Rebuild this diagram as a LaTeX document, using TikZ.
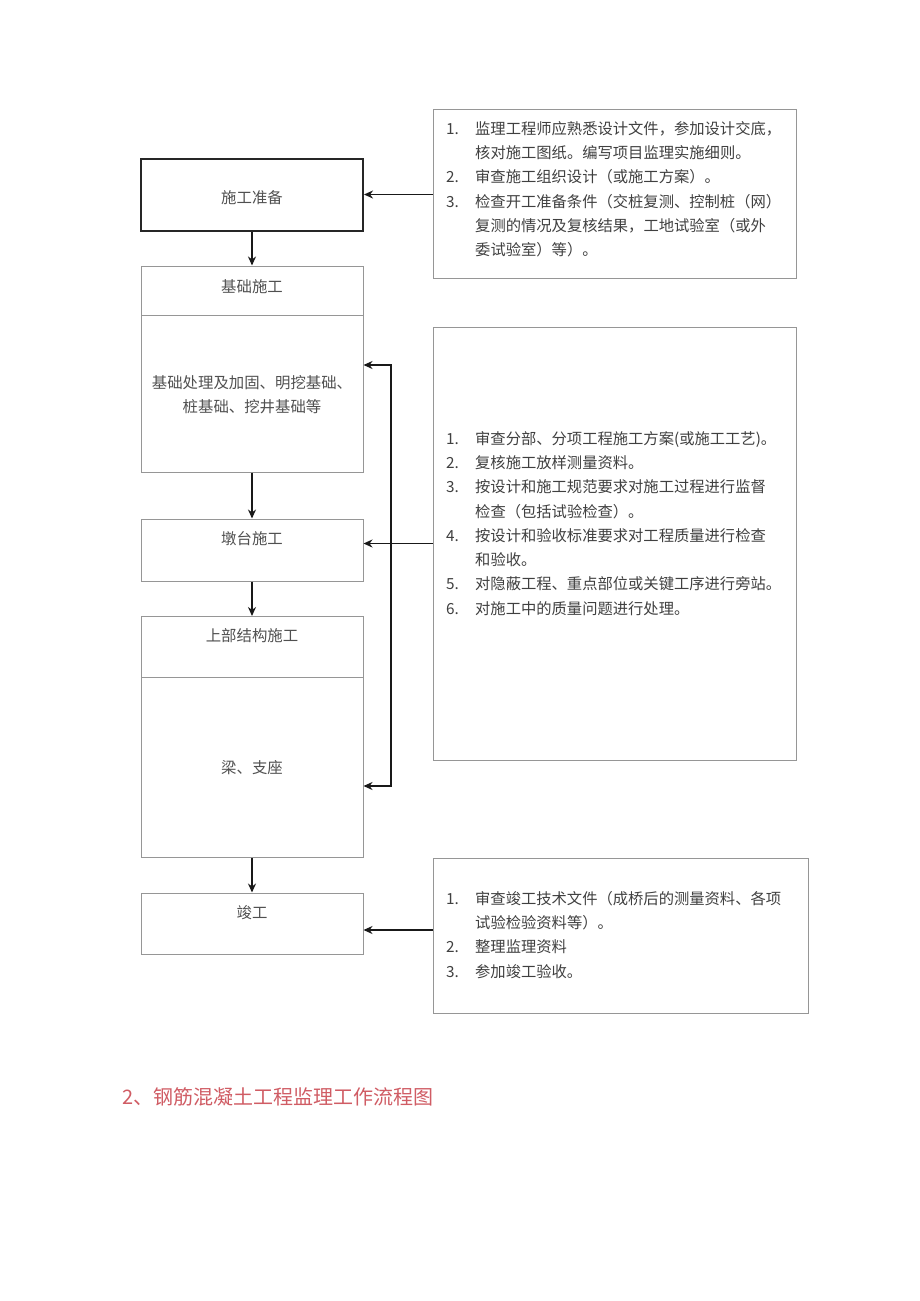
\documentclass[tikz,border=0pt]{standalone}
\usepackage{fontspec}
\newfontfamily\cjk{Noto Sans CJK SC}
\usetikzlibrary{arrows.meta}
\definecolor{capred}{RGB}{208,92,100}
\definecolor{boxgray}{RGB}{150,150,150}
\definecolor{txtgray}{RGB}{80,80,80}
\begin{document}
\begin{tikzpicture}[x=1pt,y=-1pt,
  lbox/.style={draw=boxgray, line width=1pt, inner sep=0pt, minimum width=222pt},
  thickbox/.style={draw=black!85, line width=2pt, inner sep=0pt, minimum width=222pt},
  rbox/.style={draw=boxgray, line width=1pt, inner sep=0pt},
  ltext/.style={font=\cjk\fontsize{15.4}{24}\selectfont, text=txtgray, inner sep=0pt, align=center},
  rtext/.style={font=\cjk\fontsize{15.3}{24.3}\selectfont, text=black!75, inner sep=0pt, align=left, anchor=north west},
  arr/.style={draw=black!90, line width=1.8pt, -{Stealth[length=9pt,width=8pt]}},
  arrb/.style={draw=black!90, line width=1.8pt, {Stealth[length=9pt,width=8pt]}-{Stealth[length=9pt,width=8pt]}},
  div/.style={draw=boxgray, line width=1pt}]
\useasboundingbox[fill=white] (0,0) rectangle (920,1301);

% left column
\node[thickbox, minimum height=72pt] (b1) at (252,194.5) {};
\node[ltext] (t1) at (252,198) {施工准备};

\node[lbox, minimum height=206pt] (b2) at (252,369) {};
\node[ltext] (t2) at (252,287) {基础施工};
\coordinate (d2a) at (141,315);
\coordinate (d2b) at (363,315);
\draw[div] (d2a) -- (d2b);
\node[ltext] (t2b) at (252,395) {基础处理及加固、明挖基础、\\桩基础、挖井基础等};

\node[lbox, minimum height=62pt] (b3) at (252,550) {};
\node[ltext] (t3) at (252,539) {墩台施工};

\node[lbox, minimum height=241pt] (b4) at (252,737) {};
\node[ltext] (t4) at (252,636) {上部结构施工};
\coordinate (d4a) at (141,677);
\coordinate (d4b) at (363,677);
\draw[div] (d4a) -- (d4b);
\node[ltext] (t4b) at (252,768) {梁、支座};

\node[lbox, minimum height=61pt] (b5) at (252,923.5) {};
\node[ltext] (t5) at (252,913) {竣工};

\draw[arr] (b1.south) -- (b2.north);
\draw[arr] (b2.south) -- (b3.north);
\draw[arr] (b3.south) -- (b4.north);
\draw[arr] (b4.south) -- (b5.north);

% right column
\node[rbox, minimum width=363pt, minimum height=169pt] (r1) at (614.5,193.5) {};
\node[rtext] (rt1) at (446,121) {\makebox[29pt][l]{1.}监理工程师应熟悉设计文件，参加设计交底，\\
\hspace*{29pt}核对施工图纸。编写项目监理实施细则。\\
\makebox[29pt][l]{2.}审查施工组织设计（或施工方案）。\\
\makebox[29pt][l]{3.}检查开工准备条件（交桩复测、控制桩（网）\\
\hspace*{29pt}复测的情况及复核结果，工地试验室（或外\\
\hspace*{29pt}委试验室）等）。};

\node[rbox, minimum width=363pt, minimum height=433pt] (r2) at (614.5,543.5) {};
\node[rtext] (rt2) at (446,431) {\makebox[29pt][l]{1.}审查分部、分项工程施工方案(或施工工艺)。\\
\makebox[29pt][l]{2.}复核施工放样测量资料。\\
\makebox[29pt][l]{3.}按设计和施工规范要求对施工过程进行监督\\
\hspace*{29pt}检查（包括试验检查）。\\
\makebox[29pt][l]{4.}按设计和验收标准要求对工程质量进行检查\\
\hspace*{29pt}和验收。\\
\makebox[29pt][l]{5.}对隐蔽工程、重点部位或关键工序进行旁站。\\
\makebox[29pt][l]{6.}对施工中的质量问题进行处理。};

\node[rbox, minimum width=375pt, minimum height=155pt] (r3) at (620.5,935.5) {};
\node[rtext] (rt3) at (446,891) {\makebox[29pt][l]{1.}审查竣工技术文件（成桥后的测量资料、各项\\
\hspace*{29pt}试验检验资料等）。\\
\makebox[29pt][l]{2.}整理监理资料\\
\makebox[29pt][l]{3.}参加竣工验收。};

% connectors from right
\draw[arr] (r1.west |- b1.east) -- (b1.east);
\draw[arr] (r2.west) -- (r2.west -| b3.east);
\coordinate (a5) at (433,930);
\draw[arr] (a5) -- (a5 -| b5.east);
\coordinate (v1) at (391,365);
\coordinate (v2) at (391,786);
\draw[arrb] (v1 -| b2.east) -- (v1) -- (v2) -- (v2 -| b4.east);

% caption
\node[font=\cjk\fontsize{20}{22}\selectfont, text=capred, anchor=west, inner sep=0pt] (cap) at (122,1097) {2、钢筋混凝土工程监理工作流程图};
\end{tikzpicture}
\end{document}
